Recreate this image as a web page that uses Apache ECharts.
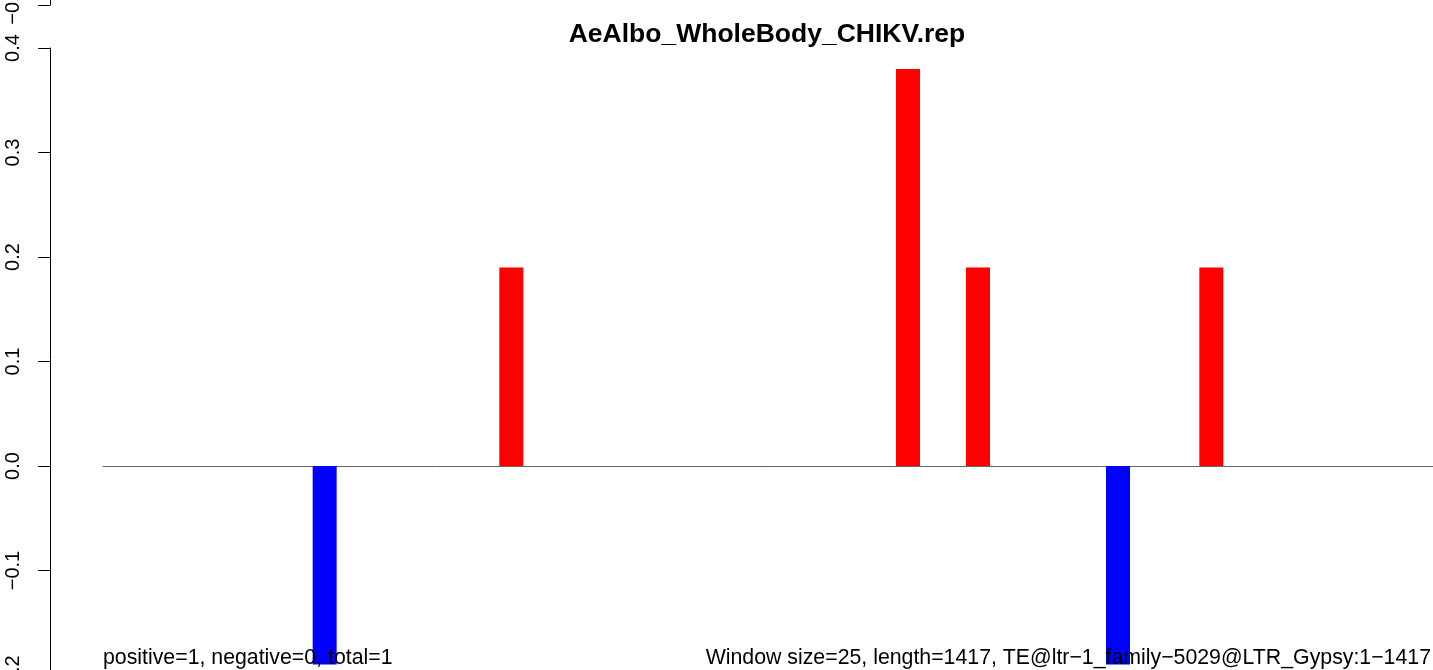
<!DOCTYPE html>
<html><head><meta charset="utf-8">
<script src="https://cdn.jsdelivr.net/npm/echarts@6/dist/echarts.min.js"></script>
<style>html,body{margin:0;padding:0;background:#fff}#c{width:1433px;height:670px}</style>
</head><body><div id="c"></div>
<script>
// Data (window centre positions in bp, score)
const positions = [237.5, 437.5, 862.5, 937.5, 1087.5, 1187.5];
const scores = [-0.19, 0.19, 0.38, 0.19, -0.19, 0.19];
const yTicks = [-0.2, -0.1, 0.0, 0.1, 0.2, 0.3, 0.4];
const titleText = 'AeAlbo_WholeBody_CHIKV.rep';
const leftNote = 'positive=1, negative=0, total=1';
const rightNote = 'Window size=25, length=1417, TE@ltr\u22121_family\u22125029@LTR_Gypsy:1\u22121417';

const FONT = '"Liberation Sans", Arial, Helvetica, sans-serif';
const fmt = v => { const s = (Math.round(v*10)/10).toFixed(1); return s.replace('-', '\u2212'); };

const chart = echarts.init(document.getElementById('c'), null, {renderer: 'canvas'});
const yMin = yTicks[0], yMax = yTicks[yTicks.length-1];
const yAxisStyle = {
  axisLine: {show: true, lineStyle: {color: '#000', width: 1}},
  axisTick: {show: true, length: 12, lineStyle: {color: '#000'}},
  axisLabel: {show: true, rotate: 90, margin: 27, fontFamily: FONT, fontSize: 20, color: '#000', formatter: fmt},
  splitLine: {show: false}
};
chart.setOption({
  animation: false,
  backgroundColor: '#fff',
  title: {
    text: titleText, left: 762, top: 16, textAlign: 'center',
    textStyle: {fontFamily: FONT, fontSize: 26.5, fontWeight: 'bold', color: '#000'}
  },
  grid: [
    {left: 50, width: 10, top: 48, bottom: -5, outerBoundsMode: 'none', containLabel: false},
    {left: 103, right: 0, top: 48, bottom: -5, outerBoundsMode: 'none', containLabel: false},
    {left: 50, width: 10, top: -622, height: 627, outerBoundsMode: 'none', containLabel: false}
  ],
  xAxis: [
    {gridIndex: 0, type: 'value', show: false},
    {gridIndex: 1, type: 'value', min: 0, max: 1425,
     axisLine: {show: true, onZero: true, lineStyle: {color: '#666', width: 1}},
     axisTick: {show: false}, axisLabel: {show: false}, splitLine: {show: false}},
    {gridIndex: 2, type: 'value', show: false}
  ],
  yAxis: [
    Object.assign({gridIndex: 0, type: 'value', min: yMin, max: yMax, interval: 0.1, position: 'left'}, yAxisStyle),
    {gridIndex: 1, type: 'value', min: yMin, max: yMax, show: false},
    Object.assign({gridIndex: 2, type: 'value', min: yMin, max: yMax, interval: 0.1, position: 'left'}, yAxisStyle)
  ],
  series: [{
    type: 'bar', xAxisIndex: 1, yAxisIndex: 1, barWidth: 24,
    data: positions.map((p, i) => ({value: [p, scores[i]], itemStyle: {color: scores[i] >= 0 ? '#ff0000' : '#0000ff'}})),
    z: 5
  }],
  graphic: [
    {type: 'text', left: 103, top: 648, z: 10,
     style: {text: leftNote, font: '21.3px ' + FONT, fill: '#000'}},
    {type: 'text', right: 2, top: 648, z: 10,
     style: {text: rightNote, font: '21.3px ' + FONT, fill: '#000'}}
  ]
});
</script></body></html>
